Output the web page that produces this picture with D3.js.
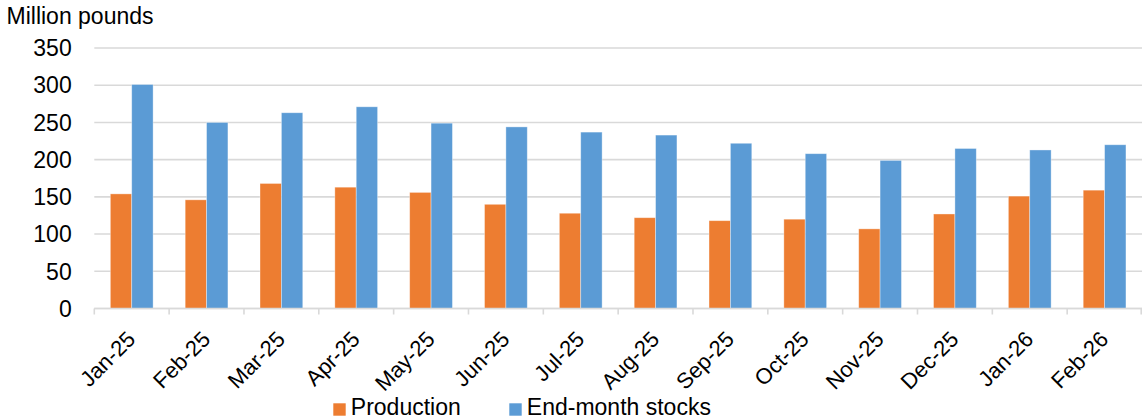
<!DOCTYPE html>
<html>
<head>
<meta charset="utf-8">
<script src="https://cdn.jsdelivr.net/npm/d3@7"></script>
<style>
  html, body { margin: 0; padding: 0; background: #fff; }
  svg { display: block; font-family: "Liberation Sans", Arial, sans-serif; }
</style>
</head>
<body>
<div id="chart"></div>
<script>
// values
const months = ["Jan-25", "Feb-25", "Mar-25", "Apr-25", "May-25", "Jun-25", "Jul-25",
  "Aug-25", "Sep-25", "Oct-25", "Nov-25", "Dec-25", "Jan-26", "Feb-26"];
const production = [154, 146, 168, 163, 156, 140, 128, 122, 118, 120, 107, 127, 151, 159];
const stocks = [301, 250, 263, 271, 249, 244, 237, 233, 222, 208, 199, 215, 213, 220];
const seriesNames = ["Production", "End-month stocks"];
const seriesColors = ["#ED7D31", "#5B9BD5"];
const yTicks = [0, 50, 100, 150, 200, 250, 300, 350];

class BarVis {
  constructor(_parentElement) {
    this.parentElement = _parentElement;
    this.initVis();
  }

  initVis() {
    let vis = this;

    vis.width = 1142;
    vis.height = 419;
    vis.margin = { top: 48, right: 0, bottom: 110.5, left: 94.3 };

    vis.svg = d3
      .select("#" + vis.parentElement)
      .append("svg")
      .attr("width", vis.width)
      .attr("height", vis.height);

    vis.x0 = d3
      .scaleBand()
      .domain(months)
      .range([vis.margin.left, vis.width - vis.margin.right])
      .paddingInner(0)
      .paddingOuter(0);

    vis.x1 = d3
      .scaleBand()
      .domain(seriesNames)
      .range([0, vis.x0.bandwidth()])
      .paddingInner(0)
      .paddingOuter(0.75);

    vis.y = d3
      .scaleLinear()
      .domain([0, 350])
      .range([vis.height - vis.margin.bottom, vis.margin.top]);

    vis.color = d3.scaleOrdinal().domain(seriesNames).range(seriesColors);

    vis.wrangleData();
  }

  wrangleData() {
    let vis = this;

    vis.displayData = months.map((m, i) => ({
      month: m,
      values: [
        { key: seriesNames[0], value: production[i] },
        { key: seriesNames[1], value: stocks[i] },
      ],
    }));

    vis.updateVis();
  }

  updateVis() {
    let vis = this;
    let font = 23;

    // unit label
    vis.svg
      .append("text")
      .attr("x", 6.5)
      .attr("y", 24)
      .attr("font-size", font)
      .attr("fill", "#000")
      .text("Million pounds");

    // gridlines
    vis.svg
      .append("g")
      .attr("class", "grid")
      .selectAll("line")
      .data(yTicks)
      .join("line")
      .attr("x1", vis.margin.left)
      .attr("x2", vis.width)
      .attr("y1", (d) => vis.y(d))
      .attr("y2", (d) => vis.y(d))
      .attr("stroke", "#d9d9d9")
      .attr("stroke-width", 1.6);

    // y tick labels
    vis.svg
      .append("g")
      .attr("class", "y-labels")
      .selectAll("text")
      .data(yTicks)
      .join("text")
      .attr("x", 71.7)
      .attr("y", (d) => vis.y(d))
      .attr("dy", "0.36em")
      .attr("text-anchor", "end")
      .attr("font-size", font)
      .attr("fill", "#000")
      .text((d) => d);

    // bars
    vis.svg
      .append("g")
      .attr("class", "bars")
      .selectAll("g")
      .data(vis.displayData)
      .join("g")
      .attr("transform", (d) => `translate(${vis.x0(d.month)},0)`)
      .selectAll("rect")
      .data((d) => d.values)
      .join("rect")
      .attr("x", (d) => vis.x1(d.key))
      .attr("y", (d) => vis.y(d.value))
      .attr("width", vis.x1.bandwidth())
      .attr("height", (d) => vis.y(0) - vis.y(d.value))
      .attr("fill", (d) => vis.color(d.key))
      .attr("stroke", "#fff")
      .attr("stroke-opacity", 0.45)
      .attr("stroke-width", 0.8);

    // x axis line and ticks
    let axisY = vis.y(0);
    vis.svg
      .append("line")
      .attr("x1", vis.margin.left)
      .attr("x2", vis.width)
      .attr("y1", axisY)
      .attr("y2", axisY)
      .attr("stroke", "#d9d9d9")
      .attr("stroke-width", 1.6);

    let tickPos = months.map((m) => vis.x0(m)).concat([vis.width - 0.8]);
    vis.svg
      .append("g")
      .attr("class", "x-ticks")
      .selectAll("line")
      .data(tickPos)
      .join("line")
      .attr("x1", (d) => d)
      .attr("x2", (d) => d)
      .attr("y1", axisY)
      .attr("y2", axisY + 6)
      .attr("stroke", "#d9d9d9")
      .attr("stroke-width", 1.6);

    // rotated month labels
    vis.svg
      .append("g")
      .attr("class", "x-labels")
      .selectAll("text")
      .data(months)
      .join("text")
      .attr("transform", (d) => {
        let cx = vis.x0(d) + vis.x0.bandwidth() / 2;
        return `translate(${cx + 5},${axisY + 32}) rotate(-45)`;
      })
      .attr("text-anchor", "end")
      .attr("font-size", 22)
      .attr("fill", "#000")
      .text((d) => d);

    // legend
    let legendX = [333.3, 509.3];
    let legend = vis.svg
      .append("g")
      .attr("class", "legend")
      .selectAll("g")
      .data(seriesNames)
      .join("g")
      .attr("transform", (d, i) => `translate(${legendX[i]},403.3)`);

    legend
      .append("rect")
      .attr("width", 12.4)
      .attr("height", 12.4)
      .attr("fill", (d) => vis.color(d));

    legend
      .append("text")
      .attr("x", 17.5)
      .attr("y", 12)
      .attr("font-size", font)
      .attr("fill", "#000")
      .text((d) => d);
  }
}

new BarVis("chart");
</script>
</body>
</html>
